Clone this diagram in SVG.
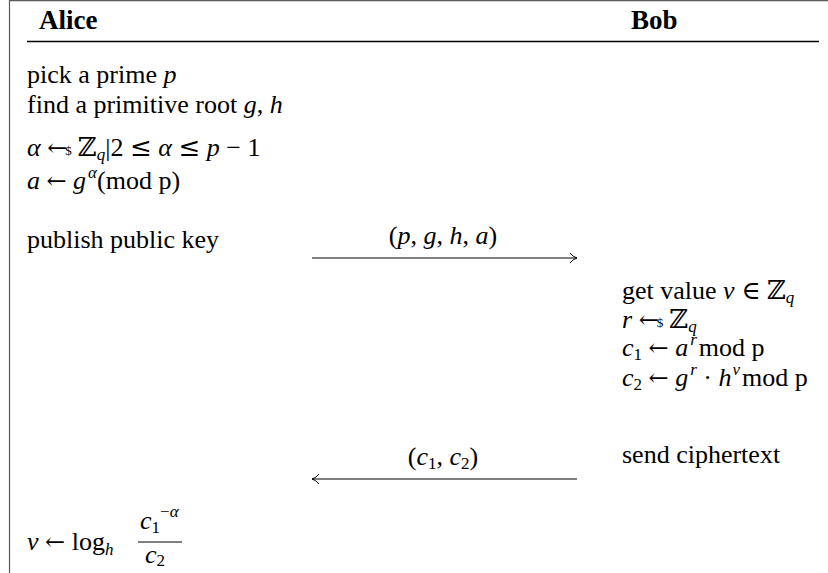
<svg xmlns="http://www.w3.org/2000/svg" width="828" height="573" viewBox="0 0 828 573">
<style>
text{font-family:"Liberation Serif","Times New Roman",serif;font-size:26px;fill:#000}
.hdr{font-weight:bold;font-size:27px}
.i{font-style:italic}
.s{font-size:17px}
.m{font-family:"DejaVu Serif",serif;font-style:normal}
.d{font-size:13px}
.frame{stroke:#5a5a5a;stroke-width:1.2;fill:none}
.msg{stroke:#000;stroke-width:1.1;fill:none}
</style>
<defs>
<marker id="ah" markerWidth="10" markerHeight="12" refX="8" refY="6" orient="auto-start-reverse" markerUnits="userSpaceOnUse">
<path d="M1,1 Q4,5 8,6 Q4,7 1,11" fill="none" stroke="#000" stroke-width="1"/>
</marker>
</defs>
<rect width="828" height="573" fill="#fff"/>
<g id="frame">
<line class="frame" x1="9.5" y1="0" x2="9.5" y2="573"/>
<line class="frame" x1="9" y1="0.6" x2="828" y2="0.6"/>
<line x1="27" y1="41.5" x2="819" y2="41.5" stroke="#000" stroke-width="1.4"/>
</g>
<g id="alice-header"><text class="hdr" x="39" y="29">Alice</text></g>
<g id="bob-header"><text class="hdr" x="631" y="29">Bob</text></g>
<g id="alice-setup">
<text x="27" y="83">pick a prime <tspan class="i">p</tspan></text>
<text x="27" y="113">find a primitive root <tspan class="i">g</tspan>, <tspan class="i">h</tspan></text>
<text x="27" y="156"><tspan class="i">α</tspan> <tspan class="m" font-size="24">←</tspan><tspan class="d" dx="-2" dy="-1">$</tspan><tspan class="m" dx="6" dy="1">ℤ</tspan><tspan class="i s" dy="4">q</tspan><tspan dy="-4">|2 </tspan><tspan class="m">≤</tspan> <tspan class="i">α</tspan> <tspan class="m">≤</tspan> <tspan class="i">p</tspan> − 1</text>
<text x="27" y="189"><tspan class="i">a</tspan> <tspan class="m" font-size="24">←</tspan> <tspan class="i">g</tspan><tspan class="i s" dx="2" dy="-11">α</tspan><tspan dy="11">(mod p)</tspan></text>
</g>
<g id="alice-publish"><text x="27" y="248">publish public key</text></g>
<g id="bob-compute">
<text x="622" y="299">get value <tspan class="i">v</tspan> <tspan class="m">∈</tspan> <tspan class="m">ℤ</tspan><tspan class="i s" dy="4">q</tspan></text>
<text x="622" y="328"><tspan class="i">r</tspan> <tspan class="m" font-size="24">←</tspan><tspan class="d" dx="-2" dy="-1">$</tspan><tspan class="m" dx="6" dy="1">ℤ</tspan><tspan class="i s" dy="4">q</tspan></text>
<text x="622" y="356"><tspan class="i">c</tspan><tspan class="s" dy="4">1</tspan><tspan dy="-4"> </tspan><tspan class="m" font-size="24">←</tspan> <tspan class="i">a</tspan><tspan class="i s" dx="2" dy="-11">r</tspan><tspan dy="11" dx="2">mod p</tspan></text>
<text x="622" y="386"><tspan class="i">c</tspan><tspan class="s" dy="4">2</tspan><tspan dy="-4"> </tspan><tspan class="m" font-size="24">←</tspan> <tspan class="i">g</tspan><tspan class="i s" dx="2" dy="-11">r</tspan><tspan dy="11"> · </tspan><tspan class="i">h</tspan><tspan class="i s" dx="1" dy="-11">v</tspan><tspan dy="11" dx="2">mod p</tspan></text>
</g>
<g id="bob-send"><text x="622" y="463">send ciphertext</text></g>
<g id="alice-decrypt">
<text x="27" y="550"><tspan class="i">v</tspan> <tspan class="m" font-size="24">←</tspan> log<tspan class="i s" dy="5">h</tspan></text>
<text x="140" y="529"><tspan class="i">c</tspan><tspan class="s" dy="4">1</tspan><tspan class="s" dy="-16">−</tspan><tspan class="i s">α</tspan></text>
<line x1="138" y1="542" x2="182" y2="542" stroke="#000" stroke-width="1.1"/>
<text x="145" y="563"><tspan class="i">c</tspan><tspan class="s" dy="3">2</tspan></text>
</g>
<g id="connectors">
<line class="msg" x1="312" y1="258" x2="577" y2="258" marker-end="url(#ah)"/>
<text x="443" y="244" text-anchor="middle">(<tspan class="i">p</tspan>, <tspan class="i">g</tspan>, <tspan class="i">h</tspan>, <tspan class="i">a</tspan>)</text>
<line class="msg" x1="312" y1="479" x2="577" y2="479" marker-start="url(#ah)"/>
<text x="443" y="465" text-anchor="middle">(<tspan class="i">c</tspan><tspan class="s" dy="4">1</tspan><tspan dy="-4">, </tspan><tspan class="i">c</tspan><tspan class="s" dy="4">2</tspan><tspan dy="-4">)</tspan></text>
</g>
</svg>
